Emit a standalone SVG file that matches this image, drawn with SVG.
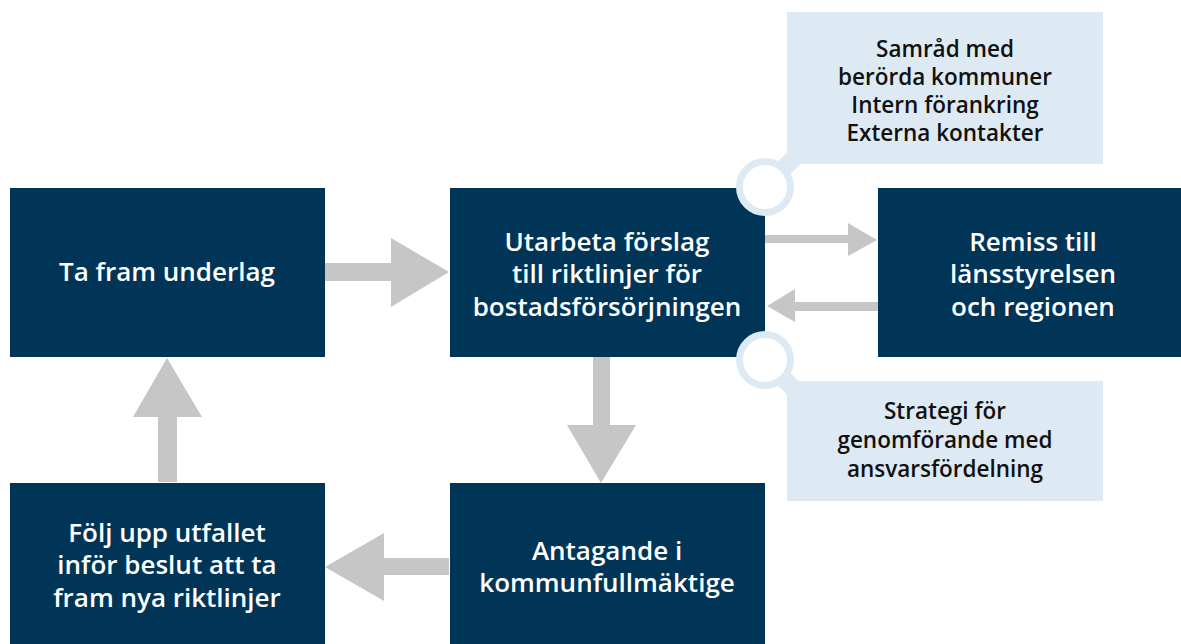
<svg xmlns="http://www.w3.org/2000/svg" width="1181" height="644" viewBox="0 0 1181 644">
<style>
.box{fill:#003557}
.call{fill:#deeaf3}
.arr{fill:#c6c6c6}
.t{font-family:"Open Sans","Noto Sans",sans-serif;font-weight:600;font-size:26px;fill:#ffffff;text-anchor:middle}
.c{font-family:"Open Sans","Noto Sans",sans-serif;font-weight:600;font-size:22.5px;fill:#111111;text-anchor:middle}
.ring{fill:#ffffff;stroke:#deeaf3;stroke-width:7}
.neck{stroke:#deeaf3;stroke-width:18}
</style>
<rect width="1181" height="644" fill="#ffffff"/>
<g id="connectors">
<polygon class="arr" points="325,263 391,263 391,238 449,272 391,307 391,281 325,281"/>
<polygon class="arr" points="765,235 848,235 848,223 877,240 848,256 848,243 765,243"/>
<polygon class="arr" points="878,302 795,302 795,289 767,306 795,322 795,311 878,311"/>
<polygon class="arr" points="593,357 610,357 610,425 636,425 601,483 567,425 593,425"/>
<polygon class="arr" points="449,558 384,558 384,533 325,567 384,601 384,575 449,575"/>
<polygon class="arr" points="158,482 158,417 133,417 167,358 202,417 177,417 177,482"/>
</g>
<g id="n-underlag">
<rect class="box" x="10" y="188" width="315" height="169"/>
<text class="t" x="167" y="281">Ta fram underlag</text>
</g>
<g id="n-utarbeta">
<rect class="box" x="450" y="188" width="315" height="169"/>
<text class="t" x="607" y="251">Utarbeta förslag</text>
<text class="t" x="607" y="283">till riktlinjer för</text>
<text class="t" x="607" y="316">bostadsförsörjningen</text>
</g>
<g id="n-remiss">
<rect class="box" x="878" y="188" width="303" height="169"/>
<text class="t" x="1033" y="251">Remiss till</text>
<text class="t" x="1033" y="283">länsstyrelsen</text>
<text class="t" x="1033" y="316">och regionen</text>
</g>
<g id="n-folj">
<rect class="box" x="10" y="483" width="315" height="161"/>
<text class="t" x="167" y="542">Följ upp utfallet</text>
<text class="t" x="167" y="574">inför beslut att ta</text>
<text class="t" x="167" y="607">fram nya riktlinjer</text>
</g>
<g id="n-antagande">
<rect class="box" x="450" y="483" width="315" height="161"/>
<text class="t" x="607" y="560">Antagande i</text>
<text class="t" x="607" y="592">kommunfullmäktige</text>
</g>
<g id="n-samrad">
<line class="neck" x1="765" y1="187" x2="805" y2="147"/>
<rect class="call" x="787" y="12" width="316" height="152"/>
<circle class="ring" cx="765" cy="187" r="25.5"/>
<text class="c" x="945" y="57">Samråd med</text>
<text class="c" x="945" y="85">berörda kommuner</text>
<text class="c" x="945" y="113">Intern förankring</text>
<text class="c" x="945" y="141">Externa kontakter</text>
</g>
<g id="n-strategi">
<line class="neck" x1="765" y1="360" x2="805" y2="400"/>
<rect class="call" x="787" y="381" width="316" height="120"/>
<circle class="ring" cx="765" cy="360" r="25.5"/>
<text class="c" x="945" y="419">Strategi för</text>
<text class="c" x="945" y="448">genomförande med</text>
<text class="c" x="945" y="477">ansvarsfördelning</text>
</g>
</svg>
